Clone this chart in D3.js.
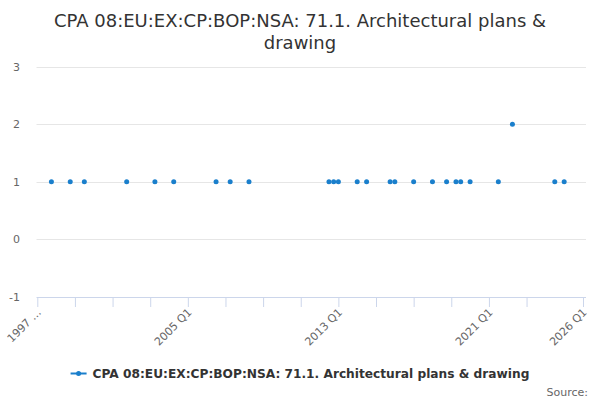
<!DOCTYPE html>
<html>
<head>
<meta charset="utf-8">
<script src="https://cdn.jsdelivr.net/npm/d3@7"></script>
<style>
  body { margin: 0; background: #fff; }
  text { font-family: "DejaVu Sans", sans-serif; }
</style>
</head>
<body>
<svg id="chart" width="600" height="400"></svg>
<script>
const title = ["CPA 08:EU:EX:CP:BOP:NSA: 71.1. Architectural plans &", "drawing"];
const seriesName = "CPA 08:EU:EX:CP:BOP:NSA: 71.1. Architectural plans & drawing";

// quarters that have a value, and the values
const quarters = ["1997 Q4", "1998 Q4", "1999 Q3", "2001 Q4", "2003 Q2", "2004 Q2", "2006 Q3", "2007 Q2",
    "2008 Q2", "2012 Q3", "2012 Q4", "2013 Q1", "2014 Q1", "2014 Q3", "2015 Q4", "2016 Q1", "2017 Q1",
    "2018 Q1", "2018 Q4", "2019 Q2", "2019 Q3", "2020 Q1", "2021 Q3", "2022 Q2", "2024 Q3", "2025 Q1"];
const values = [1, 1, 1, 1, 1, 1, 1, 1,
    1, 1, 1, 1, 1, 1, 1, 1, 1,
    1, 1, 1, 1, 1, 1, 2, 1, 1];

const xTicks = ["1997 Q1", "1999 Q1", "2001 Q1", "2003 Q1", "2005 Q1", "2007 Q1", "2009 Q1", "2011 Q1",
    "2013 Q1", "2015 Q1", "2017 Q1", "2019 Q1", "2021 Q1", "2023 Q1", "2026 Q1"];
const xTickLabels = { "1997 Q1": "1997 …", "2005 Q1": "2005 Q1", "2013 Q1": "2013 Q1", "2021 Q1": "2021 Q1", "2026 Q1": "2026 Q1" };
const yTicks = [-1, 0, 1, 2, 3];

// quarter label -> quarter index since 1997 Q1
const qIndex = s => (+s.slice(0, 4) - 1997) * 4 + (+s.slice(6) - 1);

const svg = d3.select("#chart");
const color = "#1a7fcc";

// Title
svg.append("text")
    .attr("text-anchor", "middle")
    .style("font-size", "18px")
    .style("fill", "#333")
    .selectAll("tspan")
    .data(title)
    .join("tspan")
    .attr("x", 300)
    .attr("y", (d, i) => 26.5 + i * 22)
    .text(d => d);

// Scales
const x = d3.scaleLinear()
    .domain([qIndex("1997 Q1"), qIndex("2026 Q1")])
    .range([37.3, 583]);

const y = d3.scaleLinear()
    .domain([-1, 3])
    .range([297, 66.5]);

// Grid
svg.append("g")
    .selectAll("line")
    .data(yTicks.filter(d => d > -1))
    .join("line")
    .attr("x1", 36.5)
    .attr("x2", 586)
    .attr("y1", d => Math.round(y(d)) + 0.5)
    .attr("y2", d => Math.round(y(d)) + 0.5)
    .attr("stroke", "#e6e6e6");

// Y labels
svg.append("g")
    .selectAll("text")
    .data(yTicks)
    .join("text")
    .attr("x", 20)
    .attr("y", d => y(d) + 4)
    .attr("text-anchor", "end")
    .style("font-size", "11px")
    .style("fill", "#666")
    .text(d => d);

// X axis
const xAxis = d3.axisBottom(x)
    .tickValues(xTicks.map(qIndex))
    .tickSize(10)
    .tickFormat((d, i) => xTickLabels[xTicks[i]] || "");

const gx = svg.append("g")
    .attr("transform", `translate(0,${y(-1)})`)
    .call(xAxis);

gx.select(".domain").attr("stroke", "#ccd6eb").attr("d", `M36.5,0.5H586`);
gx.selectAll(".tick line").attr("stroke", "#ccd6eb");
gx.selectAll(".tick text")
    .attr("y", 0)
    .attr("dy", 0)
    .attr("transform", "translate(4,16) rotate(-45)")
    .attr("text-anchor", "end")
    .style("font-family", "DejaVu Sans, sans-serif")
    .style("font-size", "11px")
    .style("fill", "#666");

// Points
svg.append("g")
    .selectAll("circle")
    .data(values)
    .join("circle")
    .attr("cx", (d, i) => x(qIndex(quarters[i])))
    .attr("cy", d => y(d))
    .attr("r", 2.5)
    .attr("fill", color);

// Legend
const legend = svg.append("g");
const legendText = legend.append("text")
    .attr("x", 22)
    .attr("y", 378)
    .style("font-size", "12.2px")
    .style("font-weight", "bold")
    .style("fill", "#333")
    .text(seriesName);
legend.append("line")
    .attr("x1", 0).attr("x2", 16)
    .attr("y1", 373.5).attr("y2", 373.5)
    .attr("stroke", color)
    .attr("stroke-width", 2);
legend.append("circle")
    .attr("cx", 8).attr("cy", 373.5).attr("r", 2.5)
    .attr("fill", color);
const lw = 22 + legendText.node().getComputedTextLength();
legend.attr("transform", `translate(${300 - lw / 2},0)`);

// Source
svg.append("text")
    .attr("x", 588)
    .attr("y", 396)
    .attr("text-anchor", "end")
    .style("font-size", "11px")
    .style("fill", "#666")
    .text("Source:");
</script>
</body>
</html>
